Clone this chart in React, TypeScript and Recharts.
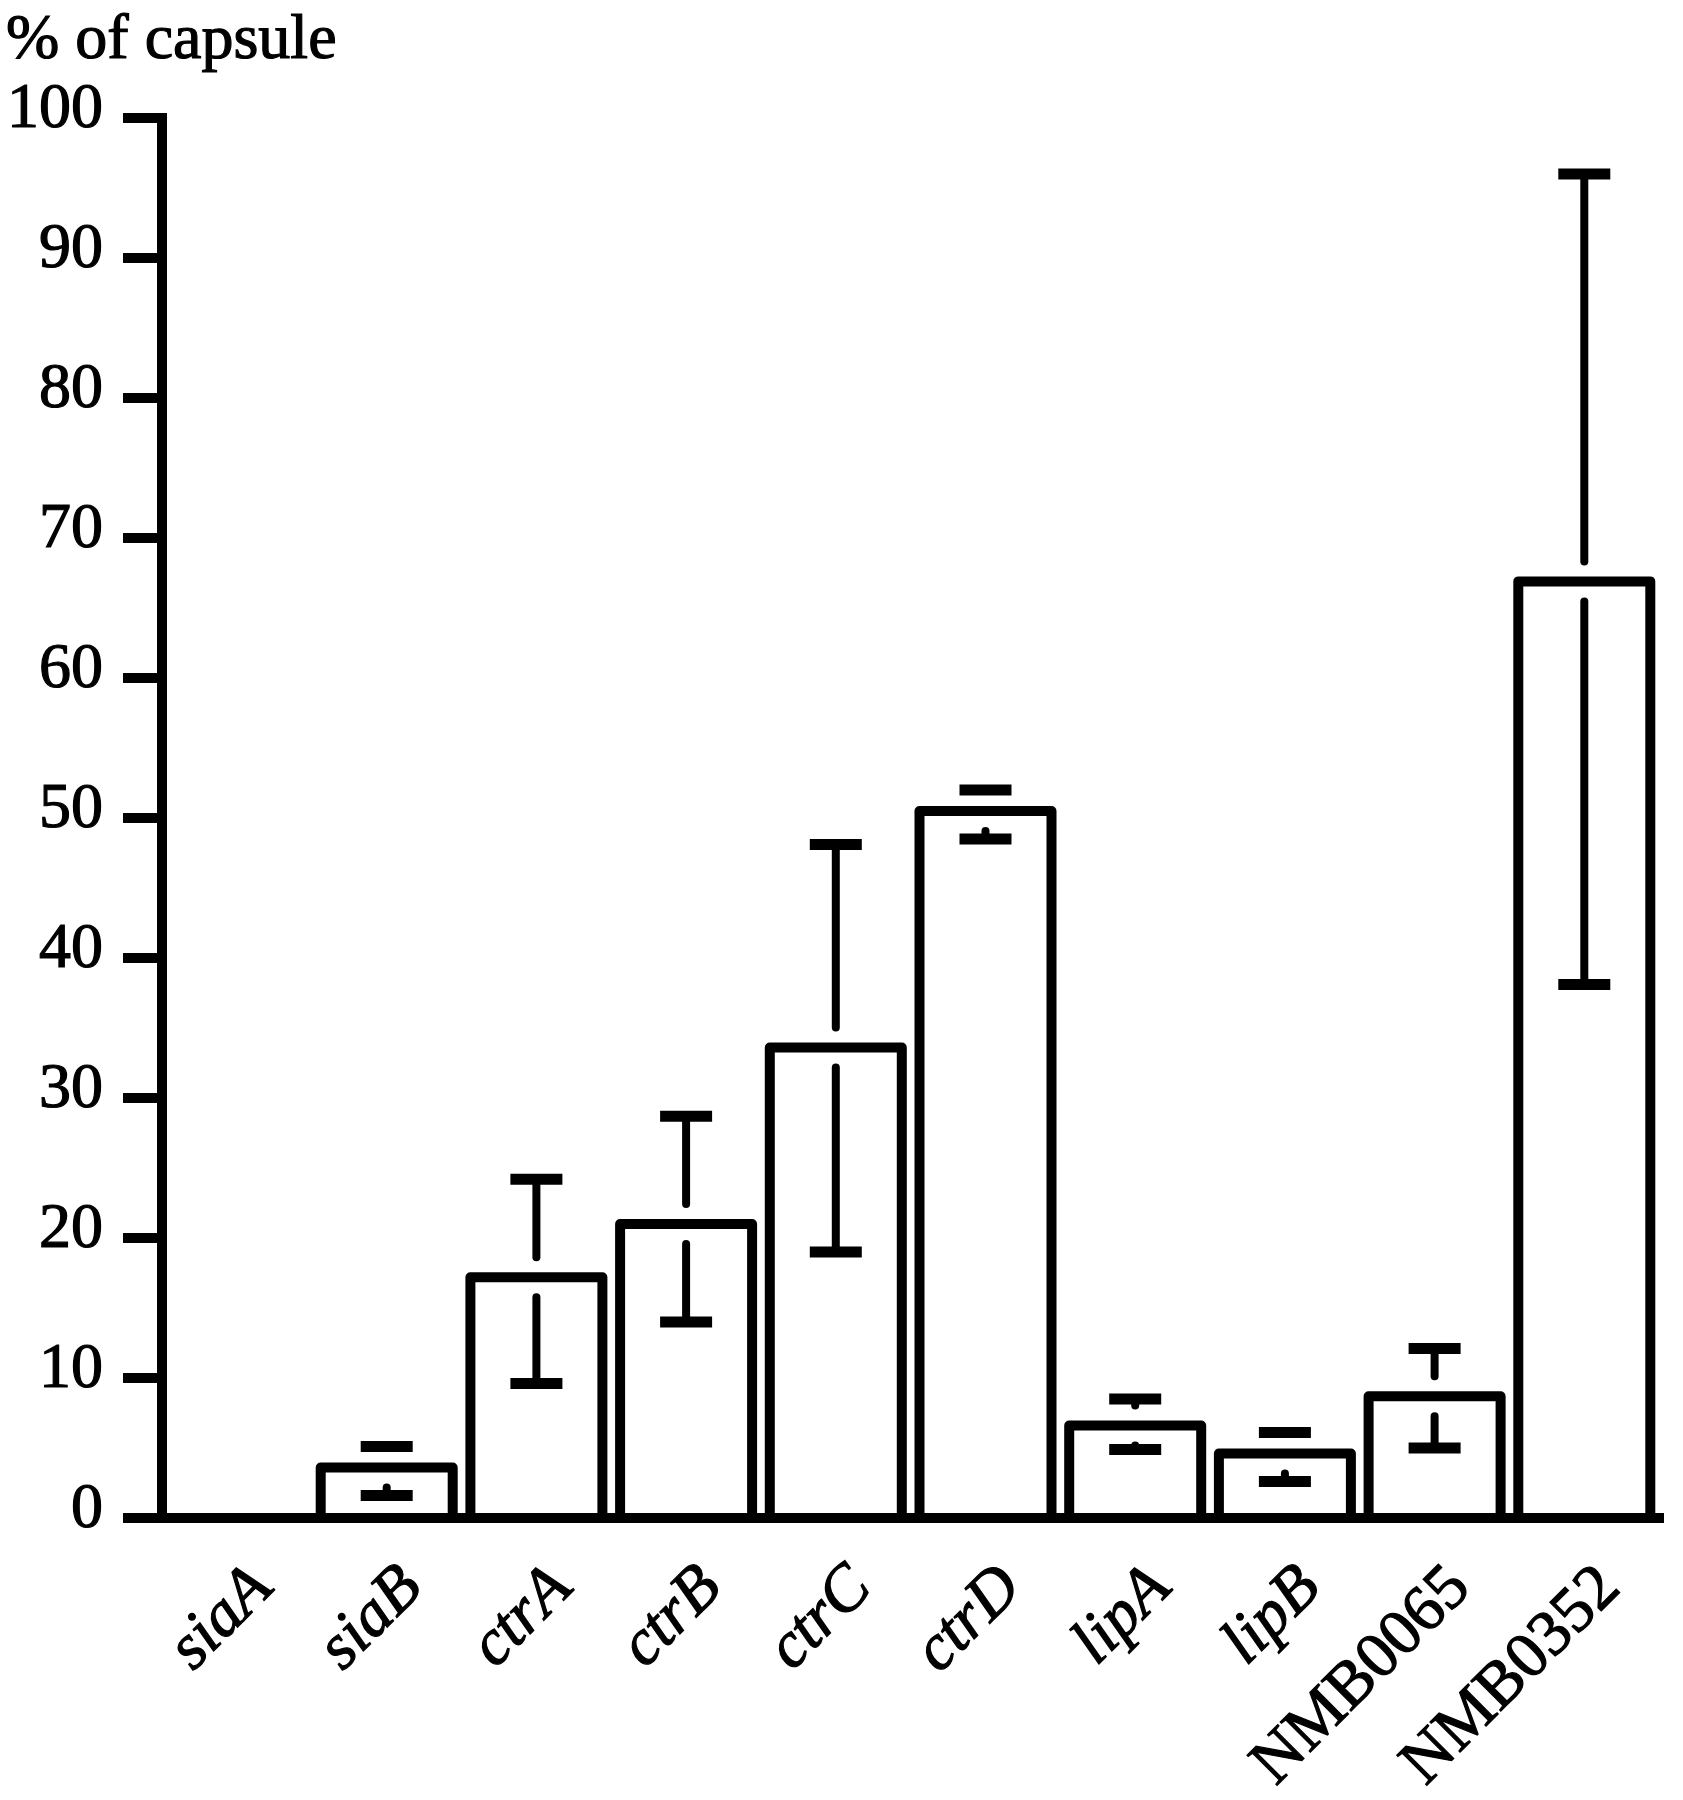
import React from 'react';
import { BarChart, Bar, XAxis, YAxis } from 'recharts';

const categories = ['siaA', 'siaB', 'ctrA', 'ctrB', 'ctrC', 'ctrD', 'lipA', 'lipB', 'NMB0065', 'NMB0352'];
const italicLabels = [true, true, true, true, true, true, true, true, false, false];
const capsulePercent = [0, 3.6, 17.2, 21.0, 33.6, 50.5, 6.6, 4.6, 8.7, 66.9];
const errorHigh = [null, 5.1, 24.2, 28.7, 48.1, 52.0, 8.5, 6.1, 12.1, 96.0];
const errorLow = [null, 1.6, 9.6, 14.0, 19.0, 48.5, 4.9, 2.6, 5.0, 38.1];
const yTicks = [0, 10, 20, 30, 40, 50, 60, 70, 80, 90, 100];
const yTitle = '% of capsule';

const data = categories.map((name, i) => ({
  name,
  value: capsulePercent[i],
  hi: errorHigh[i],
  lo: errorLow[i],
}));

const FONT = '"Liberation Serif", "Times New Roman", serif';

function BarWithError(props: any) {
  const { x, y, width, height, payload } = props;
  if (!payload || !payload.value || !(height > 0)) return <g />;
  const ppu = height / payload.value;
  const base = y + height;
  const yOf = (v: number) => base - v * ppu;
  const cx = x + width / 2;
  const gap = 20;
  const capHalf = 26;
  const parts: any[] = [];
  if (payload.hi != null) {
    const yHi = yOf(payload.hi);
    if (yHi < y - gap) {
      parts.push(<line key="us" x1={cx} x2={cx} y1={yHi} y2={y - gap} stroke="#000" strokeWidth={8} strokeLinecap="round" />);
    }
    parts.push(<line key="uc" x1={cx - capHalf} x2={cx + capHalf} y1={yHi} y2={yHi} stroke="#000" strokeWidth={11} strokeLinecap="butt" />);
  }
  if (payload.lo != null) {
    const yLo = yOf(payload.lo);
    if (yLo > y + gap) {
      parts.push(<line key="ls" x1={cx} x2={cx} y1={y + gap} y2={yLo} stroke="#000" strokeWidth={8} strokeLinecap="round" />);
    }
    parts.push(<line key="lc" x1={cx - capHalf} x2={cx + capHalf} y1={yLo} y2={yLo} stroke="#000" strokeWidth={11} strokeLinecap="butt" />);
  }
  return (
    <g>
      <rect x={x} y={y} width={width} height={height} fill="#fff" stroke="#000" strokeWidth={10} strokeLinejoin="round" />
      {parts}
    </g>
  );
}

function XTick(props: any) {
  const { x, y, payload } = props;
  const idx = categories.indexOf(payload.value);
  const italic = italicLabels[idx];
  return (
    <g transform={`translate(${x + 38},${y + 72}) rotate(-45)`}>
      <text x={0} y={0} textAnchor="end" fontFamily={FONT} fontSize={65} fontStyle={italic ? 'italic' : 'normal'} fill="#000" stroke="#000" strokeWidth={1.2}>
        {payload.value}
      </text>
    </g>
  );
}

function YTick(props: any) {
  const { x, y, payload } = props;
  return (
    <text x={x} y={y + 9} textAnchor="end" fontFamily={FONT} fontSize={64} fill="#000" stroke="#000" strokeWidth={1.2}>
      {payload.value}
    </text>
  );
}

export default function App() {
  return (
    <div style={{ position: 'absolute', left: 0, top: 0, width: 1683, height: 1800, background: '#fff' }}>
      <BarChart
        width={1683}
        height={1800}
        data={data}
        margin={{ top: 118, right: 24, bottom: 0, left: 0 }}
      >
        <XAxis
          dataKey="name"
          interval={0}
          height={282}
          tickLine={false}
          tickSize={0}
          tickMargin={0}
          axisLine={{ stroke: '#000', strokeWidth: 10, strokeLinecap: 'square' }}
          tick={XTick}
        />
        <YAxis
          type="number"
          domain={[0, 100]}
          ticks={yTicks}
          interval={0}
          width={162}
          tickSize={39}
          tickMargin={20}
          axisLine={{ stroke: '#000', strokeWidth: 10, strokeLinecap: 'square' }}
          tickLine={{ stroke: '#000', strokeWidth: 10 }}
          tick={YTick}
        />
        <Bar dataKey="value" barSize={132} isAnimationActive={false} shape={BarWithError} activeBar={false} />
      </BarChart>
      <svg width={440} height={90} style={{ position: 'absolute', left: 0, top: 0 }}>
        <text x={6} y={58} fontFamily={FONT} fontSize={64} fill="#000" stroke="#000" strokeWidth={1.2}>{yTitle}</text>
      </svg>
    </div>
  );
}
